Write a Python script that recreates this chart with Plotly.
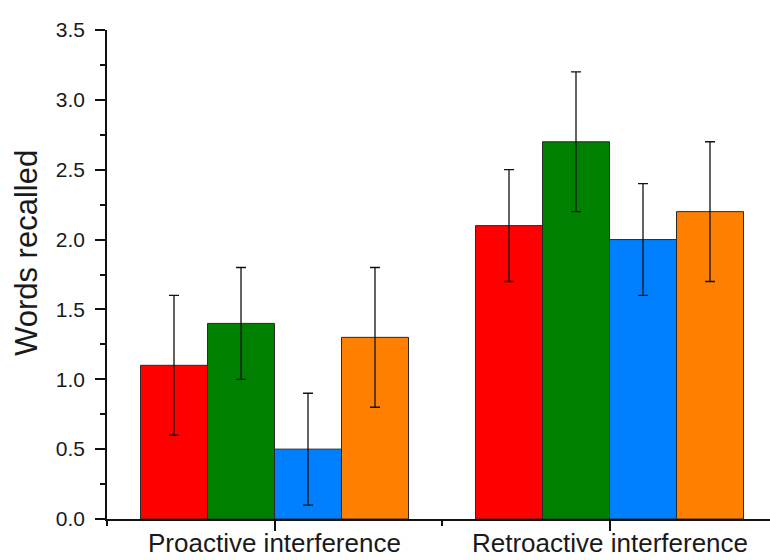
import plotly.graph_objects as go

categories = ["Proactive interference", "Retroactive interference"]
cat_pos = [1, 2]
series_names = ["Condition 1", "Condition 2", "Condition 3", "Condition 4"]
series_values = [
    [1.1, 2.1],
    [1.4, 2.7],
    [0.5, 2.0],
    [1.3, 2.2],
]
series_errors = [
    [0.5, 0.4],
    [0.4, 0.5],
    [0.4, 0.4],
    [0.5, 0.5],
]
series_colors = ["#FF0000", "#008000", "#0080FF", "#FF8000"]
y_ticks = [0.0, 0.5, 1.0, 1.5, 2.0, 2.5, 3.0, 3.5]

FONT = "Liberation Sans, Arial, sans-serif"
TXT = "#1a1a1a"

fig = go.Figure()
for name, vals, errs, col in zip(series_names, series_values, series_errors, series_colors):
    fig.add_trace(go.Bar(
        x=cat_pos, y=vals, name=name,
        marker=dict(color=col, line=dict(color="#2a2a2a", width=1)),
        error_y=dict(type="data", array=errs, visible=True, color="#111111",
                     thickness=1.3, width=5),
        showlegend=False,
    ))

fig.update_layout(
    width=770, height=560,
    margin=dict(l=107, r=0, t=30, b=41),
    paper_bgcolor="white", plot_bgcolor="white",
    barmode="group", bargap=0.2, bargroupgap=0,
    font=dict(family=FONT, color=TXT),
)
fig.update_xaxes(
    range=[0.5, 0.5 + 663 / 335], automargin=False,
    tickmode="array", tickvals=cat_pos, showticklabels=False,
    ticks="outside", ticklen=10, tickwidth=1.5, tickcolor="#111",
    showline=True, linecolor="#111", linewidth=1.5,
    showgrid=False, zeroline=False,
    minor=dict(tickmode="array", tickvals=[0.5, 1.5, 2.5], ticks="outside",
               ticklen=5, tickwidth=1.5, tickcolor="#111", showgrid=False),
)
fig.update_yaxes(
    range=[0, 3.5], automargin=False,
    tickmode="array", tickvals=y_ticks, ticktext=[f"{v:.1f}" for v in y_ticks],
    tickfont=dict(size=21, color=TXT, family=FONT),
    ticks="outside", ticklen=10, tickwidth=1.5, tickcolor="#111",
    ticklabelstandoff=6,
    showline=True, linecolor="#111", linewidth=1.5,
    showgrid=False, zeroline=False,
    minor=dict(tickmode="linear", tick0=0.25, dtick=0.5, ticks="outside",
               ticklen=5, tickwidth=1.5, tickcolor="#111", showgrid=False),
)
for pos, label in zip(cat_pos, categories):
    fig.add_annotation(
        text=label, xref="x", yref="paper", x=pos, y=(519 - 543) / 489,
        xanchor="center", yanchor="middle", showarrow=False,
        font=dict(size=26, color=TXT, family=FONT),
    )
fig.add_annotation(
    text="Words recalled", textangle=-90,
    xref="paper", yref="paper", x=-81 / 663, y=(519 - 253) / 489,
    xanchor="center", yanchor="middle", showarrow=False,
    font=dict(size=31, color=TXT, family=FONT),
)

fig.write_html("out.html")
